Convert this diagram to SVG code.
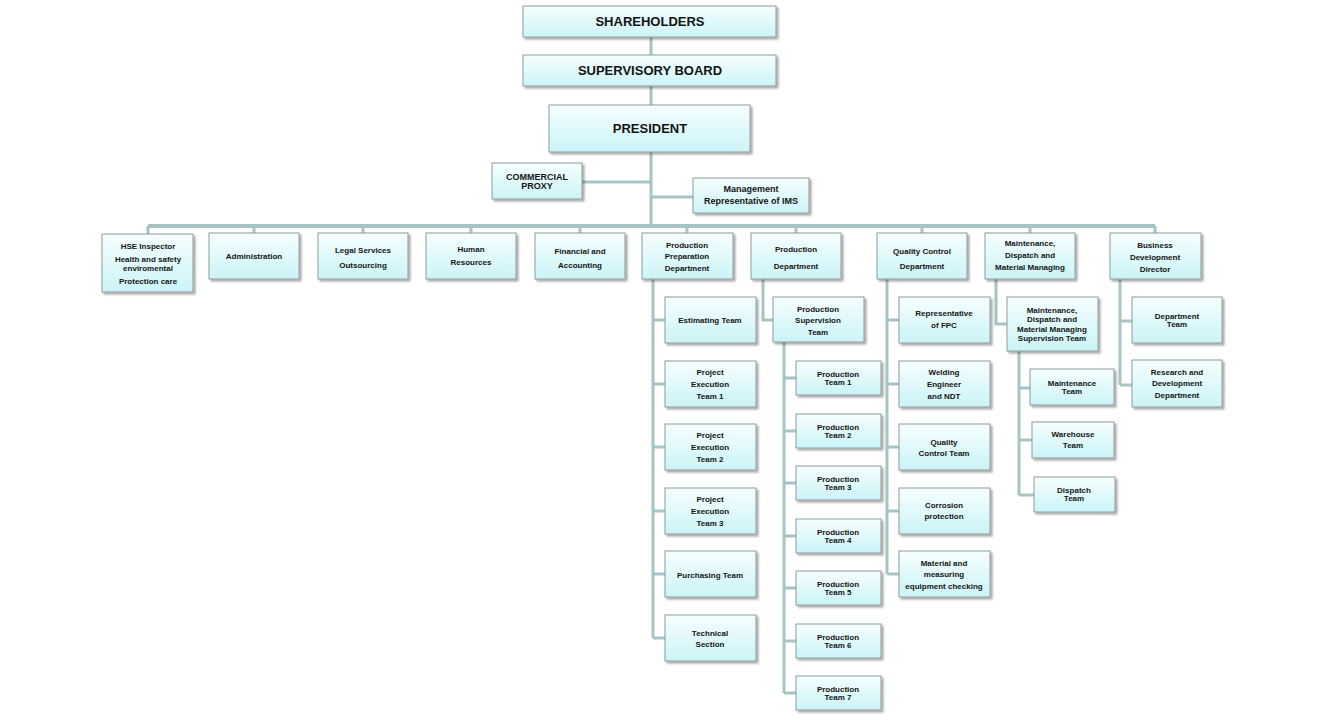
<svg xmlns="http://www.w3.org/2000/svg" width="1323" height="720" viewBox="0 0 1323 720">
<defs>
<linearGradient id="g" x1="0" y1="0" x2="0" y2="1">
<stop offset="0" stop-color="#f6fefe"/>
<stop offset="1" stop-color="#cbf4f8"/>
</linearGradient>
<filter id="sh" x="-10%" y="-10%" width="130%" height="140%">
<feDropShadow dx="2" dy="2" stdDeviation="1.2" flood-color="#000" flood-opacity="0.35"/>
</filter>
</defs>
<style>
rect{fill:url(#g);stroke:#8e9c9c;stroke-width:1;filter:url(#sh)}
text{font-family:"Liberation Sans",Arial,sans-serif;font-weight:bold;fill:#141414;text-anchor:middle}
.s{font-size:8px}
.m{font-size:9px}
.l{font-size:13px}
#connectors path{fill:none;stroke:#a7c4c5;stroke-width:3}
</style>
<rect x="0" y="0" width="1323" height="720" style="fill:#fff;stroke:none;filter:none"/>
<g id="connectors">
<path d="M651 37V55M651 86V105M651 152V226M582 182H651M651 197H693"/>
<path d="M148 226H1155" style="stroke-width:4"/>
<path d="M148 226V234M254 226V233M363 226V233M471 226V233M580 226V233M687 226V233M796 226V233M922 226V233M1030 226V233M1155 226V233"/>
<path d="M653 279V638M653 320H665M653 384H665M653 447H665M653 511H665M653 574H665M653 638H665"/>
<path d="M763 279V320H773"/>
<path d="M784 342V693M784 378H796M784 431H796M784 483H796M784 536H796M784 588H796M784 641H796M784 693H796"/>
<path d="M887 279V574M887 320H899M887 384H899M887 447H899M887 511H899M887 574H899"/>
<path d="M996 279V324H1007"/>
<path d="M1019 351V495M1019 388H1030M1019 440H1032M1019 495H1034"/>
<path d="M1120 279V385M1120 321H1132M1120 385H1132"/>
</g>
<g id="shareholders"><rect x="523" y="6" width="253" height="31"/><text class="l" x="650" y="26">SHAREHOLDERS</text></g>
<g id="supervisory-board"><rect x="523" y="55" width="253" height="31"/><text class="l" x="650" y="75">SUPERVISORY BOARD</text></g>
<g id="president"><rect x="549" y="105" width="201" height="47"/><text class="l" x="650" y="133">PRESIDENT</text></g>
<g id="commercial-proxy"><rect x="492" y="163" width="90" height="36"/><text class="m" x="537" y="180">COMMERCIAL</text><text class="m" x="537" y="189">PROXY</text></g>
<g id="management-rep"><rect x="693" y="178" width="116" height="35"/><text class="m" x="751" y="192">Management</text><text class="m" x="751" y="204">Representative of IMS</text></g>

<g id="hse"><rect x="102" y="234" width="91" height="58"/><text class="s" x="148" y="249">HSE Inspector</text><text class="s" x="148" y="262">Health and safety</text><text class="s" x="148" y="271">enviromental</text><text class="s" x="148" y="284">Protection care</text></g>
<g id="administration"><rect x="209" y="233" width="90" height="46"/><text class="s" x="254" y="259">Administration</text></g>
<g id="legal"><rect x="318" y="233" width="90" height="46"/><text class="s" x="363" y="253">Legal Services</text><text class="s" x="363" y="268">Outsourcing</text></g>
<g id="hr"><rect x="426" y="233" width="90" height="46"/><text class="s" x="471" y="252">Human</text><text class="s" x="471" y="265">Resources</text></g>
<g id="financial"><rect x="535" y="233" width="90" height="46"/><text class="s" x="580" y="254">Financial and</text><text class="s" x="580" y="268">Accounting</text></g>
<g id="prod-prep"><rect x="642" y="233" width="91" height="46"/><text class="s" x="687" y="248">Production</text><text class="s" x="687" y="259">Preparation</text><text class="s" x="687" y="271">Department</text></g>
<g id="prod-dept"><rect x="751" y="233" width="90" height="46"/><text class="s" x="796" y="252">Production</text><text class="s" x="796" y="269">Department</text></g>
<g id="qc-dept"><rect x="877" y="233" width="90" height="46"/><text class="s" x="922" y="254">Quality Control</text><text class="s" x="922" y="269">Department</text></g>
<g id="maint-dept"><rect x="985" y="233" width="90" height="46"/><text class="s" x="1030" y="246">Maintenance,</text><text class="s" x="1030" y="258">Dispatch and</text><text class="s" x="1030" y="270">Material Managing</text></g>
<g id="business"><rect x="1110" y="233" width="91" height="46"/><text class="s" x="1155" y="248">Business</text><text class="s" x="1155" y="260">Development</text><text class="s" x="1155" y="272">Director</text></g>

<g id="estimating"><rect x="665" y="297" width="91" height="46"/><text class="s" x="710" y="323">Estimating Team</text></g>
<g id="pet1"><rect x="665" y="361" width="91" height="46"/><text class="s" x="710" y="375">Project</text><text class="s" x="710" y="387">Execution</text><text class="s" x="710" y="399">Team 1</text></g>
<g id="pet2"><rect x="665" y="424" width="91" height="46"/><text class="s" x="710" y="438">Project</text><text class="s" x="710" y="450">Execution</text><text class="s" x="710" y="462">Team 2</text></g>
<g id="pet3"><rect x="665" y="488" width="91" height="46"/><text class="s" x="710" y="502">Project</text><text class="s" x="710" y="514">Execution</text><text class="s" x="710" y="526">Team 3</text></g>
<g id="purchasing"><rect x="665" y="551" width="91" height="46"/><text class="s" x="710" y="578">Purchasing Team</text></g>
<g id="technical"><rect x="665" y="615" width="91" height="46"/><text class="s" x="710" y="636">Technical</text><text class="s" x="710" y="647">Section</text></g>

<g id="prod-supervision"><rect x="773" y="297" width="91" height="45"/><text class="s" x="818" y="312">Production</text><text class="s" x="818" y="323">Supervision</text><text class="s" x="818" y="335">Team</text></g>
<g id="pt1"><rect x="796" y="361" width="85" height="34"/><text class="s" x="838" y="377">Production</text><text class="s" x="838" y="385">Team 1</text></g>
<g id="pt2"><rect x="796" y="414" width="85" height="34"/><text class="s" x="838" y="430">Production</text><text class="s" x="838" y="438">Team 2</text></g>
<g id="pt3"><rect x="796" y="466" width="85" height="34"/><text class="s" x="838" y="482">Production</text><text class="s" x="838" y="490">Team 3</text></g>
<g id="pt4"><rect x="796" y="519" width="85" height="34"/><text class="s" x="838" y="535">Production</text><text class="s" x="838" y="543">Team 4</text></g>
<g id="pt5"><rect x="796" y="571" width="85" height="34"/><text class="s" x="838" y="587">Production</text><text class="s" x="838" y="595">Team 5</text></g>
<g id="pt6"><rect x="796" y="624" width="85" height="34"/><text class="s" x="838" y="640">Production</text><text class="s" x="838" y="648">Team 6</text></g>
<g id="pt7"><rect x="796" y="676" width="85" height="34"/><text class="s" x="838" y="692">Production</text><text class="s" x="838" y="700">Team 7</text></g>

<g id="fpc"><rect x="899" y="297" width="91" height="46"/><text class="s" x="944" y="316">Representative</text><text class="s" x="944" y="328">of FPC</text></g>
<g id="welding"><rect x="899" y="361" width="91" height="46"/><text class="s" x="944" y="375">Welding</text><text class="s" x="944" y="387">Engineer</text><text class="s" x="944" y="399">and NDT</text></g>
<g id="qc-team"><rect x="899" y="424" width="91" height="46"/><text class="s" x="944" y="445">Quality</text><text class="s" x="944" y="456">Control Team</text></g>
<g id="corrosion"><rect x="899" y="488" width="91" height="46"/><text class="s" x="944" y="508">Corrosion</text><text class="s" x="944" y="519">protection</text></g>
<g id="material"><rect x="899" y="551" width="91" height="46"/><text class="s" x="944" y="566">Material and</text><text class="s" x="944" y="577">measuring</text><text class="s" x="944" y="589">equipment checking</text></g>

<g id="maint-supervision"><rect x="1007" y="297" width="91" height="54"/><text class="s" x="1052" y="313">Maintenance,</text><text class="s" x="1052" y="322">Dispatch and</text><text class="s" x="1052" y="332">Material Managing</text><text class="s" x="1052" y="341">Supervision Team</text></g>
<g id="maint-team"><rect x="1030" y="369" width="84" height="36"/><text class="s" x="1072" y="386">Maintenance</text><text class="s" x="1072" y="394">Team</text></g>
<g id="warehouse"><rect x="1032" y="422" width="82" height="36"/><text class="s" x="1073" y="437">Warehouse</text><text class="s" x="1073" y="448">Team</text></g>
<g id="dispatch"><rect x="1034" y="477" width="81" height="35"/><text class="s" x="1074" y="493">Dispatch</text><text class="s" x="1074" y="501">Team</text></g>

<g id="department-team"><rect x="1132" y="297" width="90" height="46"/><text class="s" x="1177" y="319">Department</text><text class="s" x="1177" y="327">Team</text></g>
<g id="rnd"><rect x="1132" y="360" width="90" height="47"/><text class="s" x="1177" y="375">Research and</text><text class="s" x="1177" y="386">Development</text><text class="s" x="1177" y="398">Department</text></g>
</svg>
